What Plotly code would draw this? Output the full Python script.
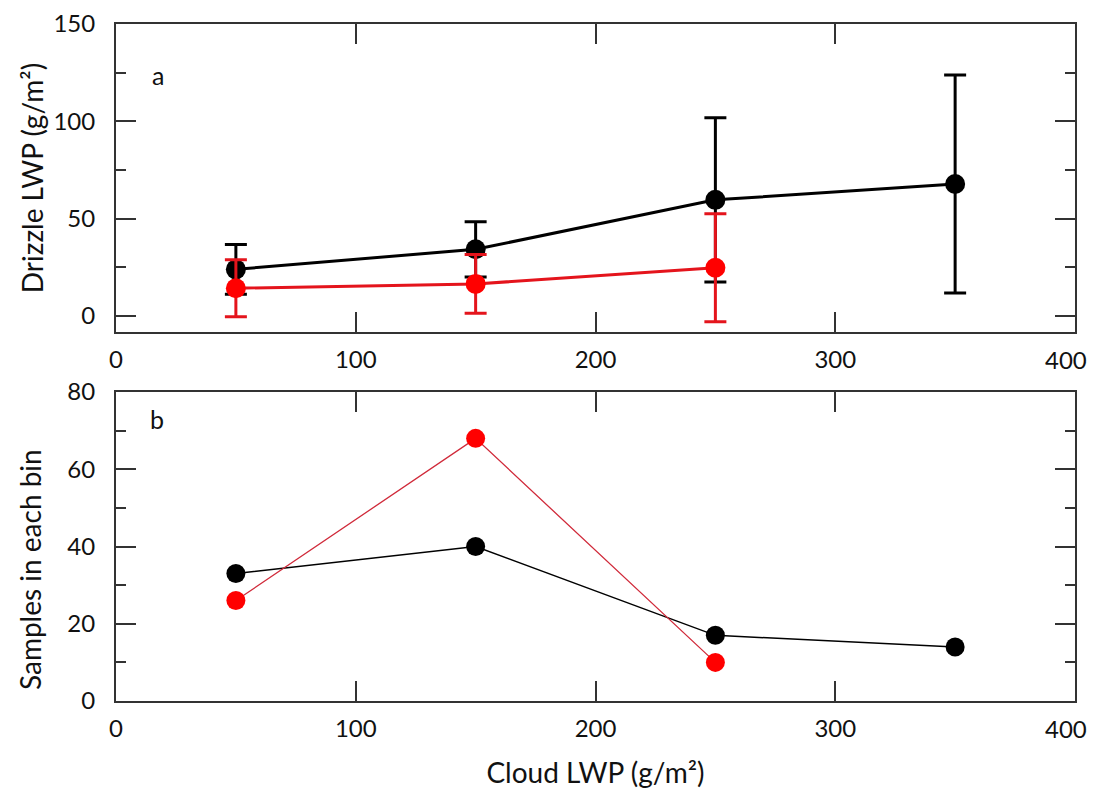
import plotly.graph_objects as go
from plotly.subplots import make_subplots

# ---- data ----
cloud_lwp_black = [50, 150, 250, 350]
cloud_lwp_red = [50, 150, 250]

drizzle_black = [24.0, 34.3, 59.7, 67.8]
drizzle_black_err = [12.8, 14.2, 42.2, 56.0]
drizzle_red = [14.3, 16.5, 24.8]
drizzle_red_err = [14.6, 15.1, 27.7]

samples_black = [33, 40, 17, 14]
samples_red = [26, 68, 10]

x_ticks = [0, 100, 200, 300, 400]
# the last label ("400") sits at the right page edge, so it is drawn as an annotation
x_tick_text = ["0", "100", "200", "300", ""]
x_last_label = "400"

FONT = "Lato"
FRAME = "#333333"
TXT = "#111111"

fig = make_subplots(rows=2, cols=1, shared_xaxes=False, vertical_spacing=0.0887)

# top panel
fig.add_trace(go.Scatter(
    x=cloud_lwp_black, y=drizzle_black, mode="lines+markers",
    line=dict(color="black", width=3),
    marker=dict(color="black", size=20),
    error_y=dict(type="data", array=drizzle_black_err, color="black", thickness=3, width=11),
    showlegend=False), row=1, col=1)
fig.add_trace(go.Scatter(
    x=cloud_lwp_red, y=drizzle_red, mode="lines+markers",
    line=dict(color="#e4141c", width=3),
    marker=dict(color="#ff0000", size=20),
    error_y=dict(type="data", array=drizzle_red_err, color="#e4141c", thickness=3, width=11),
    showlegend=False), row=1, col=1)

# bottom panel
fig.add_trace(go.Scatter(
    x=cloud_lwp_black, y=samples_black, mode="lines+markers",
    line=dict(color="black", width=1.5),
    marker=dict(color="black", size=19),
    showlegend=False), row=2, col=1)
fig.add_trace(go.Scatter(
    x=cloud_lwp_red, y=samples_red, mode="lines+markers",
    line=dict(color="#d02a3a", width=1.3),
    marker=dict(color="#ff0000", size=19),
    showlegend=False), row=2, col=1)

TICKFONT = dict(family=FONT, size=24, color=TXT)
axis_common = dict(
    showline=True, linecolor=FRAME, linewidth=2, mirror="allticks",
    ticks="inside", ticklen=20, tickwidth=1.8, tickcolor=FRAME,
    showgrid=False, zeroline=False, automargin=False, ticklabeloverflow="allow",
    tickfont=TICKFONT,
)

for r in (1, 2):
    fig.update_xaxes(range=[0, 400], tickvals=x_ticks, ticktext=x_tick_text,
                     ticklabelstandoff=5, **axis_common, row=r, col=1)

fig.update_yaxes(range=[-8.2, 150], tickvals=[0, 50, 100, 150], ticklabelstandoff=14,
                 minor=dict(ticks="inside", ticklen=10, tickwidth=1.8, tickcolor=FRAME,
                            tickvals=[25, 75, 125], showgrid=False),
                 title=dict(text="Drizzle LWP (g/m²)",
                            font=dict(family=FONT, size=28, color=TXT), standoff=2),
                 **axis_common, row=1, col=1)
fig.update_yaxes(range=[0, 80], tickvals=[0, 20, 40, 60, 80], ticklabelstandoff=14,
                 minor=dict(ticks="inside", ticklen=10, tickwidth=1.8, tickcolor=FRAME,
                            tickvals=[10, 30, 50, 70], showgrid=False),
                 **axis_common, row=2, col=1)
fig.update_xaxes(title=dict(text="Cloud LWP (g/m²)",
                            font=dict(family=FONT, size=28, color=TXT), standoff=26),
                 row=2, col=1)

# "400" labels
for xr, yr in (("x", "y domain"), ("x2", "y2 domain")):
    fig.add_annotation(x=x_ticks[-1], y=0, xref=xr, yref=yr, text=x_last_label,
                       showarrow=False, xanchor="center", yanchor="middle",
                       xshift=-9, yshift=-27, font=TICKFONT)

# y title of bottom panel (placed slightly below the panel centre, as in the reference)
fig.add_annotation(x=-86 / 967, y=0.47 * (309 / 677) - 0.02, xref="paper", yref="paper",
                   text="Samples in each bin", textangle=-90, showarrow=False,
                   xanchor="center", yanchor="middle",
                   font=dict(family=FONT, size=28, color=TXT))

fig.add_annotation(x=17.5, y=124, xref="x", yref="y", text="a", showarrow=False,
                   font=dict(family=FONT, size=25, color=TXT))
fig.add_annotation(x=17.1, y=73, xref="x2", yref="y2", text="b", showarrow=False,
                   font=dict(family=FONT, size=25, color=TXT))

fig.update_layout(
    width=1080, height=781,
    margin=dict(l=108, r=13, t=16, b=88),
    plot_bgcolor="white", paper_bgcolor="white",
    font=dict(family=FONT, color=TXT),
)
fig.update_layout(yaxis=dict(domain=[0.545, 1.0]), yaxis2=dict(domain=[0.0, 0.4564]))

fig.write_html("out.html")
